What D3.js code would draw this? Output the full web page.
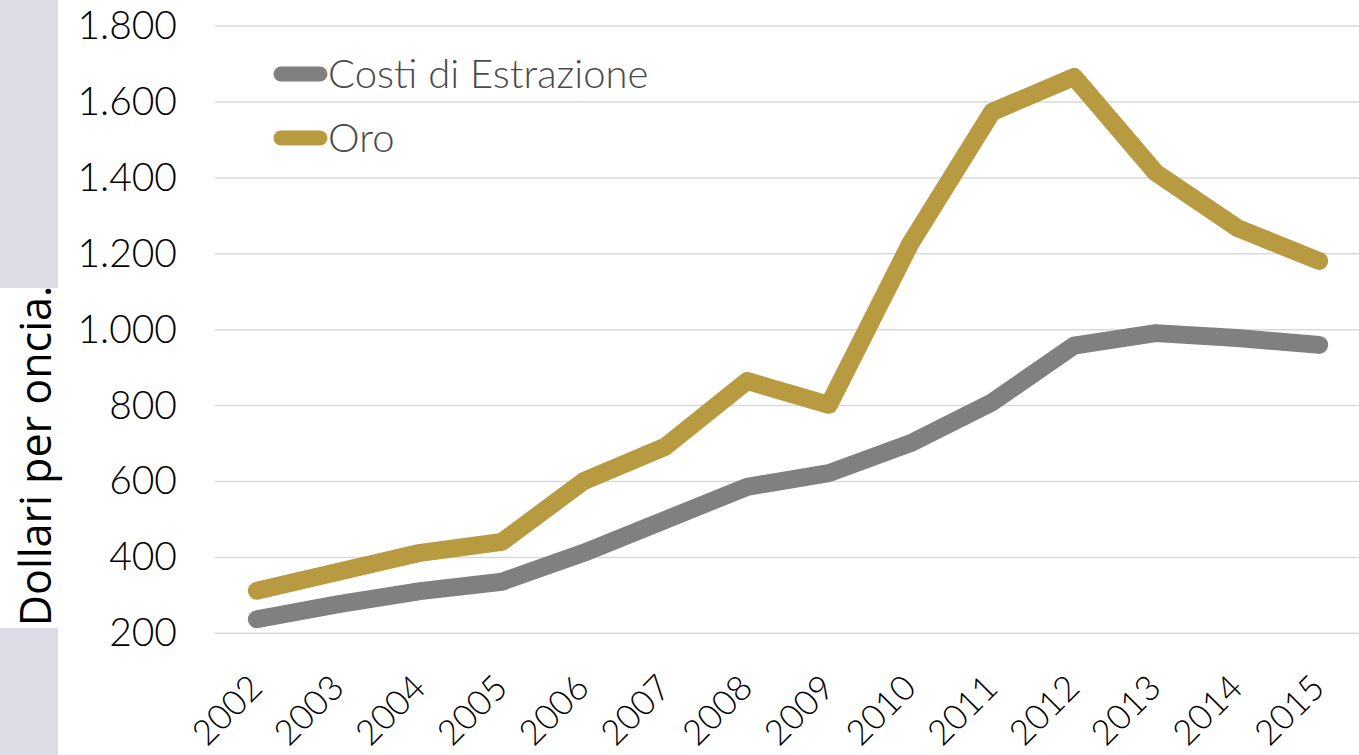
<!DOCTYPE html>
<html>
<head>
<meta charset="utf-8">
<script src="https://cdn.jsdelivr.net/npm/d3@7"></script>
<style>
  body { margin: 0; background: #fff; }
  svg { display: block; }
  .tick text { font-family: Lato, "DejaVu Sans", sans-serif; font-weight: 300; fill: #000; }
</style>
</head>
<body>
<div id="chart"></div>
<script>
// data
var years = ['2002','2003','2004','2005','2006','2007','2008','2009','2010','2011','2012','2013','2014','2015'];
var costi = [237, 277, 311, 336, 412, 499, 586, 622, 701, 809, 958, 991, 978, 960];
var oro   = [312, 362, 412, 441, 601, 692, 865, 802, 1228, 1574, 1666, 1414, 1268, 1181];
var yTicks = [200, 400, 600, 800, 1000, 1200, 1400, 1600, 1800];
var seriesNames = ['Costi di Estrazione', 'Oro'];
var seriesColors = ['#808080', '#b89a41'];

var width = 1359, height = 755;

var it = d3.formatLocale({ decimal: ',', thousands: '.', grouping: [3], currency: ['', '€'] });
var fmt = it.format(',');

var x = d3.scalePoint().domain(years).range([216, 1360]).padding(0.5);
var y = d3.scaleLinear().domain([200, 1800]).range([633.3, 26.1]);

var svg = d3.select('#chart').append('svg')
    .attr('width', width)
    .attr('height', height);

// left band with white box behind the axis title
svg.append('rect').attr('x', 0).attr('y', 0).attr('width', 58).attr('height', height).attr('fill', '#dcdce6');
svg.append('rect').attr('x', 0).attr('y', 288).attr('width', 58).attr('height', 340).attr('fill', '#fff');

svg.append('text')
    .attr('transform', 'translate(51,' + 456 + ') rotate(-90)')
    .attr('text-anchor', 'middle')
    .style('font-family', '"Open Sans", sans-serif')
    .style('font-size', '43px')
    .attr('fill', '#000')
    .text('Dollari per oncia.');

// grid lines
svg.append('g')
    .selectAll('line')
    .data(yTicks)
    .join('line')
    .attr('x1', 215).attr('x2', width)
    .attr('y1', (d) => y(d)).attr('y2', (d) => y(d))
    .attr('stroke', '#d9d9d9')
    .attr('stroke-width', 1.5);

// y axis labels
var yAxis = d3.axisLeft(y).tickValues(yTicks).tickFormat(fmt).tickSize(0).tickPadding(0);
svg.append('g')
    .attr('transform', 'translate(177,0)')
    .call(yAxis)
    .call((g) => g.select('.domain').remove())
    .selectAll('text')
    .style('font-size', '39px');

// x axis labels
var xAxis = d3.axisBottom(x).tickSize(0).tickPadding(0);
svg.append('g')
    .attr('transform', 'translate(0,633)')
    .call(xAxis)
    .call((g) => g.select('.domain').remove())
    .selectAll('text')
    .style('font-size', '35px')
    .attr('text-anchor', 'end')
    .attr('dy', 0)
    .attr('transform', 'translate(7,57) rotate(-45)');

// lines
var line = d3.line()
    .x((d, i) => x(years[i]))
    .y((d) => y(d));

[costi, oro].forEach(function(vals, k) {
    svg.append('path')
	.datum(vals)
	.attr('d', line)
	.attr('fill', 'none')
	.attr('stroke', seriesColors[k])
	.attr('stroke-width', 18)
	.attr('stroke-linecap', 'round')
	.attr('stroke-linejoin', 'round');
});

// legend
var legend = svg.append('g')
    .selectAll('g')
    .data(seriesNames)
    .join('g')
    .attr('transform', (d, i) => 'translate(0,' + (74 + i * 64) + ')');

legend.append('line')
    .attr('x1', 281).attr('x2', 320)
    .attr('stroke', (d, i) => seriesColors[i])
    .attr('stroke-width', 15)
    .attr('stroke-linecap', 'round');

legend.append('text')
    .attr('x', 328)
    .attr('dy', '0.35em')
    .style('font-family', 'Lato, "DejaVu Sans", sans-serif')
    .style('font-weight', 300)
    .style('font-size', '40px')
    .attr('fill', '#4a4a4a')
    .text((d) => d);
</script>
</body>
</html>
